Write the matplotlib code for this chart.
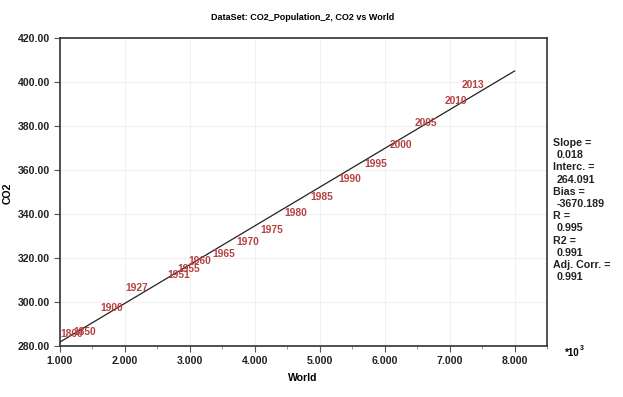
import numpy as np
import matplotlib
matplotlib.use("Agg")
import matplotlib.pyplot as plt
from matplotlib.ticker import FuncFormatter, MultipleLocator

plt.rcParams['font.family'] = ['Liberation Sans', 'DejaVu Sans']

years = ["1800", "1850", "1900", "1927", "1951", "1955", "1960", "1965", "1970",
         "1975", "1980", "1985", "1990", "1995", "2000", "2005", "2010", "2013"]
world = [1000, 1200, 1620, 2000, 2650, 2800, 2980, 3350, 3710,
         4080, 4460, 4850, 5280, 5690, 6080, 6460, 6920, 7180]
co2 = [284.0, 285.0, 296.0, 305.0, 310.9, 313.6, 317.3, 320.5, 325.9,
       331.4, 339.1, 346.4, 354.5, 361.4, 370.0, 380.0, 390.0, 397.3]
stats_labels = ["Slope =", "Interc. =", "Bias =", "R =", "R2 =", "Adj. Corr. ="]
stats_values = ["0.018", "264.091", "-3670.189", "0.995", "0.991", "0.991"]
line_x = [1000, 8000]

fig = plt.figure(figsize=(6.23, 3.97), dpi=100)
ax = fig.add_axes([60/623, 51/397, 487/623, 308/397])

slope, interc = np.polyfit(world, co2, 1)
lx = np.array(line_x)
ax.plot(lx, slope*lx + interc, color='#222222', lw=0.9, zorder=2)

for yr, xv, yv in zip(years, world, co2):
    ax.text(xv, yv, yr, color='#b54242', fontsize=7.4, fontweight='bold',
            ha='left', va='baseline', zorder=3)

ax.set_xlim(1000, 8500)
ax.set_ylim(280, 420)
ax.xaxis.set_major_locator(MultipleLocator(1000))
ax.xaxis.set_minor_locator(MultipleLocator(500))
ax.yaxis.set_major_locator(MultipleLocator(20))
ax.xaxis.set_major_formatter(FuncFormatter(lambda v, p: f"{v/1000:.3f}"))
ax.yaxis.set_major_formatter(FuncFormatter(lambda v, p: f"{v:.2f}"))
ax.grid(True, which='major', color='#f0f0f0', lw=0.8)
ax.set_axisbelow(True)
for s in ax.spines.values():
    s.set_color('#333333')
    s.set_linewidth(1.2)
ax.tick_params(which='major', direction='out', length=4, width=0.8, color='#555555',
               labelsize=7.6, pad=3)
ax.tick_params(which='minor', direction='out', length=2.5, width=0.6, color='#888888')
for lab in ax.get_xticklabels() + ax.get_yticklabels():
    lab.set_fontweight('bold')
    lab.set_color('#222222')

fig.text(303/623, 1-378/397, "World", fontsize=7.6, fontweight='bold', ha='center', va='center')
fig.text(8/623, 1-193/397, "CO2", fontsize=7.6, fontweight='bold', ha='center', va='center',
         rotation=90)
fig.text(303/623, 1-18/397, "DataSet: CO2_Population_2, CO2 vs World", fontsize=6.5,
         fontweight='bold', ha='center', va='center')

fig.text(565/623, 1-353/397, "*10", fontsize=7, fontweight='bold', ha='left', va='center')
fig.text(580/623, 1-348/397, "3", fontsize=5, fontweight='bold', ha='left', va='center')

for i, (l, v) in enumerate(zip(stats_labels, stats_values)):
    y0 = 143 + 2*i*12.2
    fig.text(553/623, 1-y0/397, l, fontsize=7.7, fontweight='bold',
             ha='left', va='center', color='#222222')
    fig.text(557/623, 1-(y0+12.2)/397, v, fontsize=7.7, fontweight='bold',
             ha='left', va='center', color='#222222')

fig.savefig("out.png", dpi=100)
